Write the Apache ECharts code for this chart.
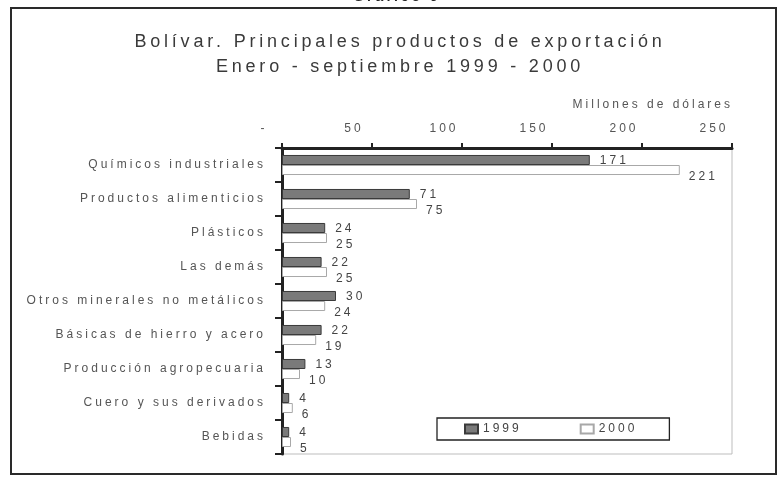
<!DOCTYPE html>
<html>
<head>
<meta charset="utf-8">
<script src="https://cdn.jsdelivr.net/npm/echarts@6/dist/echarts.min.js"></script>
<style>html,body{margin:0;padding:0;background:#fff}#c{width:777px;height:478px}</style>
</head>
<body>
<div id="c"></div>
<script>
const categories = ['Químicos industriales','Productos alimenticios','Plásticos','Las demás','Otros minerales no metálicos','Básicas de hierro y acero','Producción agropecuaria','Cuero y sus derivados','Bebidas'];
const values1999 = [171, 71, 24, 22, 30, 22, 13, 4, 4];
const values2000 = [221, 75, 25, 25, 24, 19, 10, 6, 5];
const seriesNames = ['1999', '2000'];
const xTicks = [0, 50, 100, 150, 200, 250];
const titleLines = ['Bolívar. Principales productos de exportación', 'Enero - septiembre 1999 - 2000'];
const axisName = 'Millones de dólares';
const topNote = 'Gráfico 9';

// wide letter spacing as in the scanned original
const _ft = CanvasRenderingContext2D.prototype.fillText;
CanvasRenderingContext2D.prototype.fillText = function (t, x, y, w) {
  const m = /(\d+(?:\.\d+)?)px/.exec(this.font);
  const fs = m ? parseFloat(m[1]) : 12;
  const prev = this.letterSpacing;
  this.letterSpacing = (fs >= 16 ? 3.8 : 3) + 'px';
  const r = (w === undefined) ? _ft.call(this, t, x, y) : _ft.call(this, t, x, y, w);
  this.letterSpacing = prev;
  return r;
};

const chart = echarts.init(document.getElementById('c'), null, {renderer: 'canvas'});
const FONT = 'Liberation Sans, Arial, sans-serif';
chart.setOption({
  backgroundColor: '#ffffff',
  animation: false,
  textStyle: {fontFamily: FONT},
  title: {
    text: titleLines.join('\n'),
    left: 395,
    textAlign: 'center',
    top: 25,
    textStyle: {fontSize: 18, fontWeight: 'normal', color: '#3a3a3a', lineHeight: 25, fontFamily: FONT}
  },
  legend: {
    data: seriesNames.map(n => ({name: n, icon: 'rect'})),
    left: 437, top: 418,
    orient: 'horizontal',
    itemWidth: 13, itemHeight: 9, itemGap: 70,
    padding: [5, 44, 5, 27],
    borderColor: '#222', borderWidth: 1.3,
    textStyle: {fontSize: 12, color: '#444', fontFamily: FONT}
  },
  grid: {left: 282, right: 45, top: 148, bottom: 24, show: true, borderColor: '#bdbdbd', borderWidth: 1},
  xAxis: {
    type: 'value', position: 'top', min: 0, max: 250, interval: 50,
    axisLine: {show: true, lineStyle: {color: '#222', width: 3}},
    axisTick: {show: true, length: 5, lineStyle: {color: '#222', width: 2}},
    axisLabel: {
      fontSize: 12, color: '#555', margin: 13, padding: [0, 36, 0, 0],
      formatter: v => (v === 0 ? '-' : String(v))
    },
    splitLine: {show: false}
  },
  yAxis: {
    type: 'category', data: categories, inverse: true,
    axisLine: {show: true, lineStyle: {color: '#222', width: 3}},
    axisTick: {show: true, length: 7, lineStyle: {color: '#222', width: 2}},
    axisLabel: {fontSize: 12, color: '#555', margin: 16}
  },
  series: [
    {
      name: seriesNames[0], type: 'bar', data: values1999,
      barCategoryGap: '41%', barGap: '0%',
      itemStyle: {color: '#7a7a7a', borderColor: '#3a3a3a', borderWidth: 1},
      label: {show: true, position: 'right', distance: 10, offset: [0, 1], fontSize: 12, color: '#444'}
    },
    {
      name: seriesNames[1], type: 'bar', data: values2000,
      barCategoryGap: '41%', barGap: '0%',
      itemStyle: {color: '#ffffff', borderColor: '#a8a8a8', borderWidth: 1},
      label: {show: true, position: 'right', distance: 9, offset: [0, 7], fontSize: 12, color: '#444'}
    }
  ],
  graphic: [
    {type: 'rect', shape: {x: 11, y: 8, width: 765, height: 466}, style: {fill: 'none', stroke: '#2a2a2a', lineWidth: 2}, silent: true},
    {type: 'text', x: 733, y: 105, style: {text: axisName, fill: '#555', fontSize: 12, fontFamily: FONT, textAlign: 'right', textVerticalAlign: 'middle'}},
    {type: 'text', x: 397, y: 4, style: {text: topNote, fill: '#222', fontSize: 14, fontWeight: 'bold', fontFamily: FONT, textAlign: 'center', textVerticalAlign: 'bottom'}}
  ]
});
</script>
</body>
</html>
